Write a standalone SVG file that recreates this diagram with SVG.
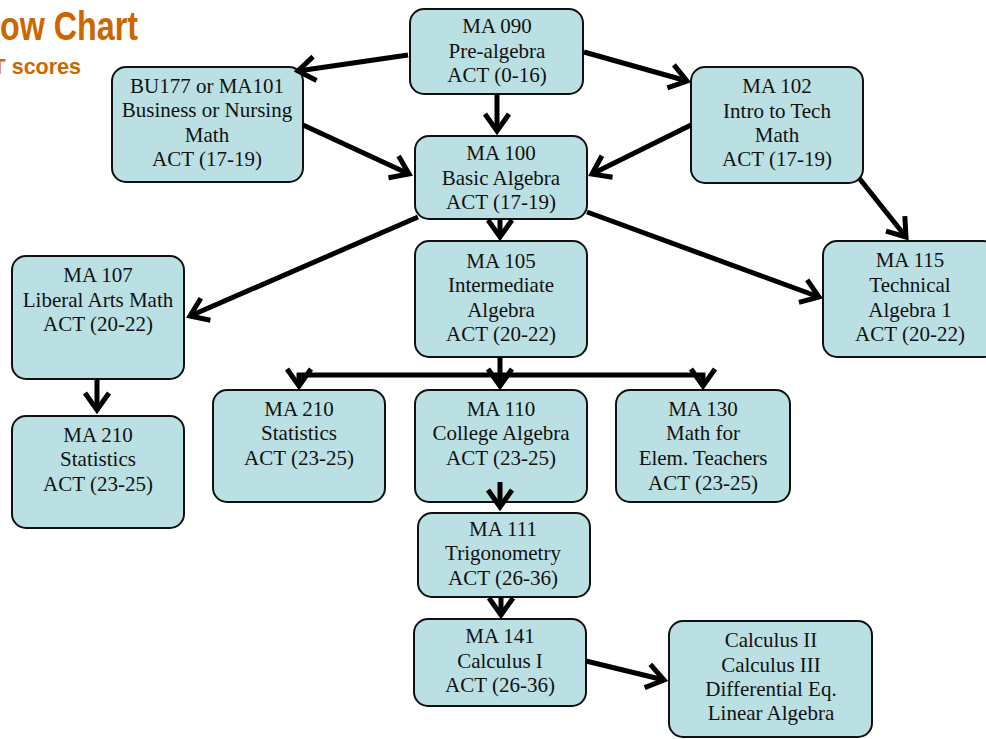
<svg xmlns="http://www.w3.org/2000/svg" width="986" height="739" viewBox="0 0 986 739">
<style>
.box{fill:#BAE0E3;stroke:#111;stroke-width:2}
.t{font-family:"Liberation Serif","Times New Roman",serif;font-size:21px;fill:#111;text-anchor:middle}
.c{fill:none;stroke:#000;stroke-width:5}
.title{font-family:"Liberation Sans",Arial,sans-serif;font-weight:bold;fill:#CC6600}
</style>
<defs>
<marker id="arr" viewBox="-24 -18 30 36" refX="0" refY="0" markerWidth="30" markerHeight="36" markerUnits="userSpaceOnUse" orient="auto">
<path d="M-17,-12 L0,0 L-17,12" fill="none" stroke="#000" stroke-width="5"/>
</marker>
</defs>
<rect width="986" height="739" fill="#fff"/>
<g id="title">
<text class="title" x="0" y="40" font-size="40" textLength="138" lengthAdjust="spacingAndGlyphs">ow Chart</text>
<text class="title" x="81" y="74" font-size="21.5" text-anchor="end">T scores</text>
</g>
<g id="ma090"><rect class="box" x="410" y="9" width="173" height="85" rx="14"/>
<text class="t" x="497" y="33">MA 090</text><text class="t" x="497" y="58">Pre-algebra</text><text class="t" x="497" y="82">ACT (0-16)</text></g>
<g id="bu177"><rect class="box" x="112" y="67" width="191" height="115" rx="14"/>
<text class="t" x="207" y="93">BU177 or MA101</text><text class="t" x="207" y="117">Business or Nursing</text><text class="t" x="207" y="142">Math</text><text class="t" x="207" y="166">ACT (17-19)</text></g>
<g id="ma102"><rect class="box" x="691" y="67" width="172" height="116" rx="14"/>
<text class="t" x="777" y="93">MA 102</text><text class="t" x="777" y="118">Intro to Tech</text><text class="t" x="777" y="142">Math</text><text class="t" x="777" y="166">ACT (17-19)</text></g>
<g id="ma100"><rect class="box" x="415" y="136" width="172" height="83" rx="14"/>
<text class="t" x="501" y="160">MA 100</text><text class="t" x="501" y="185">Basic Algebra</text><text class="t" x="501" y="209">ACT (17-19)</text></g>
<g id="ma105"><rect class="box" x="415" y="241" width="172" height="116" rx="14"/>
<text class="t" x="501" y="268">MA 105</text><text class="t" x="501" y="292">Intermediate</text><text class="t" x="501" y="317">Algebra</text><text class="t" x="501" y="341">ACT (20-22)</text></g>
<g id="ma107"><rect class="box" x="12" y="256" width="172" height="123" rx="14"/>
<text class="t" x="98" y="282">MA 107</text><text class="t" x="98" y="307">Liberal Arts Math</text><text class="t" x="98" y="331">ACT (20-22)</text></g>
<g id="ma210a"><rect class="box" x="12" y="416" width="172" height="112" rx="14"/>
<text class="t" x="98" y="442">MA 210</text><text class="t" x="98" y="466">Statistics</text><text class="t" x="98" y="491">ACT (23-25)</text></g>
<g id="ma115"><rect class="box" x="823" y="241" width="174" height="116" rx="14"/>
<text class="t" x="910" y="267">MA 115</text><text class="t" x="910" y="292">Technical</text><text class="t" x="910" y="317">Algebra 1</text><text class="t" x="910" y="341">ACT (20-22)</text></g>
<g id="ma210b"><rect class="box" x="213" y="390" width="172" height="112" rx="14"/>
<text class="t" x="299" y="416">MA 210</text><text class="t" x="299" y="440">Statistics</text><text class="t" x="299" y="465">ACT (23-25)</text></g>
<g id="ma110"><rect class="box" x="415" y="390" width="172" height="112" rx="14"/>
<text class="t" x="501" y="416">MA 110</text><text class="t" x="501" y="440">College Algebra</text><text class="t" x="501" y="465">ACT (23-25)</text></g>
<g id="ma130"><rect class="box" x="616" y="390" width="174" height="112" rx="14"/>
<text class="t" x="703" y="416">MA 130</text><text class="t" x="703" y="440">Math for</text><text class="t" x="703" y="465">Elem. Teachers</text><text class="t" x="703" y="490">ACT (23-25)</text></g>
<g id="ma111"><rect class="box" x="418" y="513" width="172" height="84" rx="14"/>
<text class="t" x="503" y="536">MA 111</text><text class="t" x="503" y="560">Trigonometry</text><text class="t" x="503" y="585">ACT (26-36)</text></g>
<g id="ma141"><rect class="box" x="414" y="619" width="172" height="87" rx="14"/>
<text class="t" x="500" y="643">MA 141</text><text class="t" x="500" y="668">Calculus I</text><text class="t" x="500" y="692">ACT (26-36)</text></g>
<g id="calc"><rect class="box" x="669" y="621" width="203" height="116" rx="14"/>
<text class="t" x="771" y="647">Calculus II</text><text class="t" x="771" y="672">Calculus III</text><text class="t" x="771" y="696">Differential Eq.</text><text class="t" x="771" y="720">Linear Algebra</text></g>
<g id="connectors">
<line class="c" x1="408" y1="55" x2="298" y2="71" marker-end="url(#arr)"/>
<line class="c" x1="497" y1="94" x2="497" y2="131" marker-end="url(#arr)"/>
<line class="c" x1="584" y1="52" x2="687" y2="81" marker-end="url(#arr)"/>
<line class="c" x1="303" y1="125" x2="409" y2="174" marker-end="url(#arr)"/>
<line class="c" x1="691" y1="125" x2="592" y2="174" marker-end="url(#arr)"/>
<line class="c" x1="418" y1="217" x2="190" y2="316" marker-end="url(#arr)"/>
<line class="c" x1="500" y1="219" x2="500" y2="237" marker-end="url(#arr)"/>
<line class="c" x1="587" y1="212" x2="819" y2="297" marker-end="url(#arr)"/>
<line class="c" x1="859" y1="178" x2="906" y2="237" marker-end="url(#arr)"/>
<line class="c" x1="97" y1="379" x2="97" y2="410" marker-end="url(#arr)"/>
<line class="c" x1="500" y1="357" x2="500" y2="386" marker-end="url(#arr)"/>
<line class="c" x1="297" y1="375" x2="705" y2="375"/>
<line class="c" x1="299" y1="373" x2="299" y2="386" marker-end="url(#arr)"/>
<line class="c" x1="703" y1="373" x2="703" y2="386" marker-end="url(#arr)"/>
<line class="c" x1="500" y1="482" x2="500" y2="507" marker-end="url(#arr)"/>
<line class="c" x1="501" y1="597" x2="501" y2="615" marker-end="url(#arr)"/>
<line class="c" x1="586" y1="661" x2="664" y2="680" marker-end="url(#arr)"/>
</g>
</svg>
